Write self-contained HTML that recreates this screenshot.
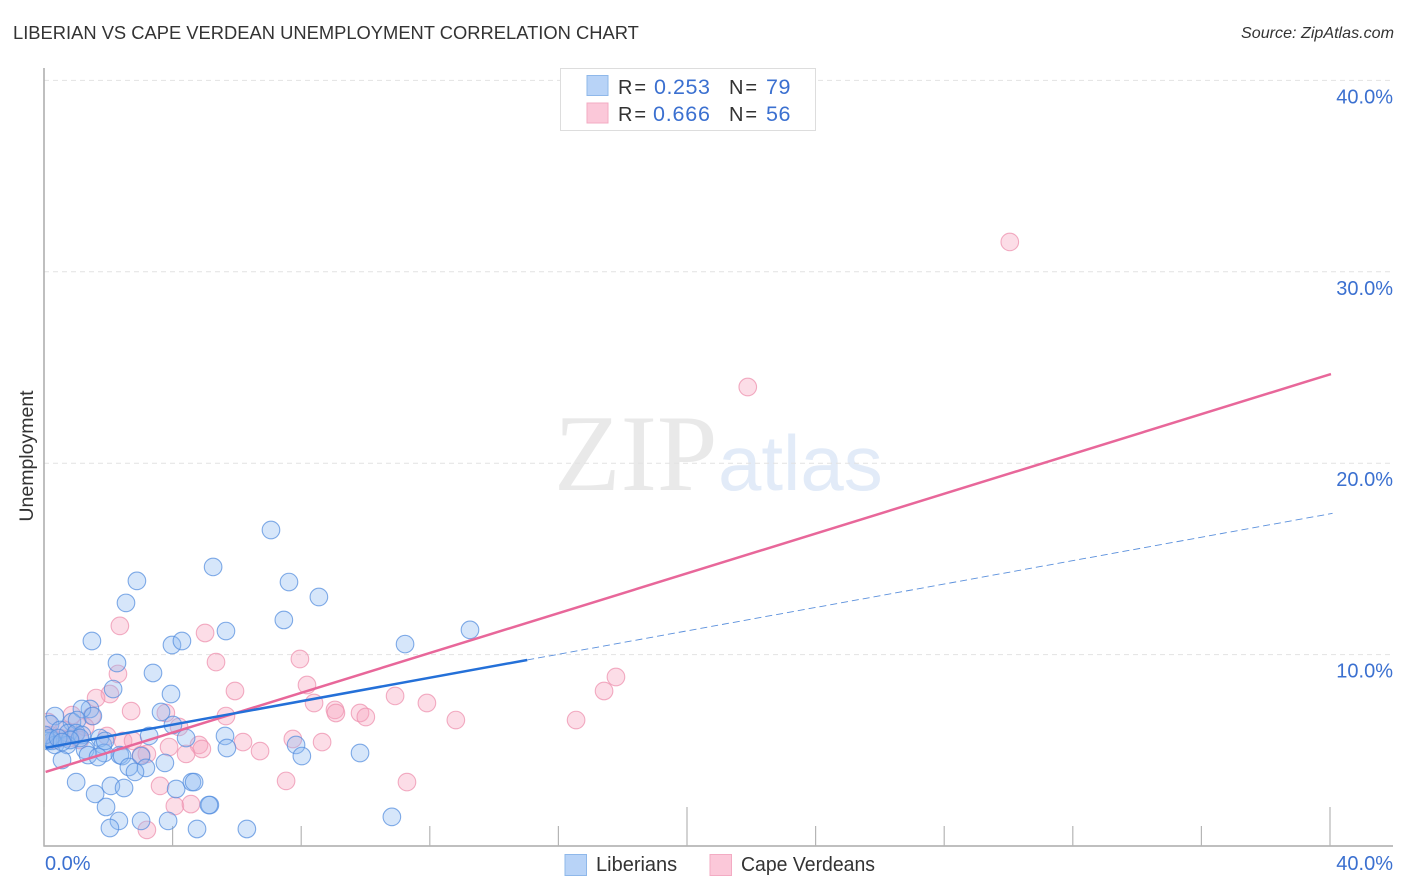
<!DOCTYPE html>
<html>
<head>
<meta charset="utf-8">
<title>Liberian vs Cape Verdean Unemployment Correlation Chart</title>
<style>
html,body{margin:0;padding:0;background:#fff;}
body{width:1406px;height:892px;overflow:hidden;font-family:"Liberation Sans",sans-serif;}
svg{display:block;}
text{font-family:"Liberation Sans",sans-serif;}
</style>
</head>
<body>
<svg id="chart" width="1406" height="892" viewBox="0 0 1406 892" xmlns="http://www.w3.org/2000/svg">
  <defs>
    <clipPath id="plot-clip"><rect x="45" y="60" width="1350" height="786"/></clipPath>
  </defs>
  <text x="13" y="39" font-size="18.35" fill="#333">LIBERIAN VS CAPE VERDEAN UNEMPLOYMENT CORRELATION CHART</text>
  <text x="1394" y="38" font-size="16.1" font-style="italic" fill="#333" text-anchor="end">Source: ZipAtlas.com</text>
  <text transform="translate(33,456) rotate(-90)" font-size="19.5" fill="#333" text-anchor="middle">Unemployment</text>
  <g>
    <text x="554" y="490" font-size="109" fill="#e9e9e9" style="font-family:'Liberation Serif',serif">ZIP</text>
    <text x="718" y="490" font-size="78" fill="#e2ebf8">atlas</text>
  </g>
  <g id="grid"></g>
  <g id="axes"></g>
  <g id="points-pink" clip-path="url(#plot-clip)"></g>
  <g id="points-blue" clip-path="url(#plot-clip)"></g>
  <g id="trends"></g>
  <g id="labels"></g>

  <g>
    <rect x="560.5" y="68.5" width="255" height="62" fill="#fff" stroke="#ddd" stroke-width="1"/>
    <rect x="587" y="75.500" width="21" height="20" fill="#b8d3f7" stroke="#8fb8ea" stroke-width="1"/>
    <rect x="587" y="103" width="21" height="20" fill="#fbc8d9" stroke="#f3abc3" stroke-width="1"/>
    <text x="618" y="94" font-size="20" fill="#333" textLength="28" lengthAdjust="spacing">R =</text>
    <text x="654" y="94" font-size="21.5" fill="#3b70d0" textLength="56" lengthAdjust="spacing">0.253</text>
    <text x="729" y="94" font-size="20" fill="#333" textLength="28" lengthAdjust="spacing">N =</text>
    <text x="766" y="94" font-size="21.5" fill="#3b70d0" textLength="24.5" lengthAdjust="spacing">79</text>
    <text x="618" y="121" font-size="20" fill="#333" textLength="28" lengthAdjust="spacing">R =</text>
    <text x="653" y="121" font-size="21.5" fill="#3b70d0" textLength="57" lengthAdjust="spacing">0.666</text>
    <text x="729" y="121" font-size="20" fill="#333" textLength="28" lengthAdjust="spacing">N =</text>
    <text x="766" y="121" font-size="21.5" fill="#3b70d0" textLength="24.5" lengthAdjust="spacing">56</text>
  </g>

  <g>
    <rect x="565" y="854.500" width="21.500" height="21" fill="#b8d3f7" stroke="#8fb8ea" stroke-width="1"/>
    <text x="596" y="871" font-size="20" fill="#333">Liberians</text>
    <rect x="710" y="854.500" width="21.500" height="21" fill="#fbc8d9" stroke="#f3abc3" stroke-width="1"/>
    <text x="741" y="871" font-size="20" fill="#333" textLength="134" lengthAdjust="spacingAndGlyphs">Cape Verdeans</text>
  </g>
</svg>
<script>
const liberianX = [7.06,5.26,2.89,7.62,8.55,2.55,7.46,5.66,13.25,1.49,3.98,4.29,11.23,2.27,3.39,2.15,3.95,3.64,4.01,1.43,1.18,0.34,0.19,0.87,1.03,1.52,0.50,0.75,1.00,1.18,0.25,0.12,0.34,0.72,3.27,4.42,5.63,5.69,7.84,8.02,9.83,1.74,1.83,1.87,1.28,1.37,1.68,0.56,2.36,2.43,3.02,3.17,2.64,2.83,3.76,1.00,2.08,1.59,2.49,4.11,4.60,4.67,5.16,5.13,1.93,2.33,3.02,3.86,2.05,4.76,6.31,10.82,0.03,0.19,1.12,0.81,0.44,0.56,1.90];
const liberianY = [16.51,14.58,13.85,13.79,13.01,12.70,11.81,11.23,11.29,10.71,10.50,10.71,10.55,9.56,9.04,8.20,7.94,7.00,6.32,7.16,7.16,6.79,6.37,6.48,6.58,6.79,6.06,5.90,5.90,5.80,5.49,5.49,5.28,5.28,5.75,5.64,5.75,5.12,5.28,4.70,4.86,5.64,5.28,4.86,5.02,4.75,4.65,4.49,4.75,4.70,4.70,4.08,4.13,3.87,4.34,3.34,3.14,2.72,3.03,2.98,3.34,3.34,2.14,2.14,2.04,1.31,1.31,1.31,0.94,0.89,0.89,1.52,5.80,5.64,5.64,5.54,5.64,5.43,5.49];
const capeVerdeanX = [30.04,21.89,2.36,5.01,5.35,7.96,2.30,5.94,8.18,2.05,1.62,2.71,3.79,4.20,5.66,8.40,10.92,11.91,12.81,17.42,17.79,16.55,9.05,9.08,9.83,10.01,1.96,2.46,2.77,3.89,4.82,4.91,4.42,6.19,6.72,7.74,8.65,3.20,3.02,7.53,11.29,3.61,4.07,4.57,3.20,1.49,0.87,0.19,0.34,0.50,0.81,0.96,1.28,0.65,1.12,0.12];
const capeVerdeanY = [31.56,23.98,11.50,11.13,9.61,9.77,8.99,8.10,8.41,7.94,7.73,7.05,6.95,6.22,6.79,7.47,7.84,7.47,6.58,8.10,8.83,6.58,7.11,6.95,6.95,6.74,5.75,5.49,5.49,5.17,5.28,5.07,4.81,5.43,4.96,5.59,5.43,4.81,4.75,3.40,3.34,3.14,2.09,2.19,0.84,6.79,6.84,5.80,5.54,5.64,5.64,5.80,6.22,6.06,5.54,6.48];
const liberianTrendX = [0.05,15.03,40.08];
const liberianTrendY = [5.13,9.72,17.38];
const capeVerdeanTrendX = [0.05,40.03];
const capeVerdeanTrendY = [3.87,24.66];
const xTicks = [0,4,8,12,16,20,24,28,32,36,40];
const xMajorTicks = [0,20,40];
const yTicks = [10,20,30,40];
const yTickLabels = ["10.0%","20.0%","30.0%","40.0%"];
const xTickLabels = ["0.0%","40.0%"];

const SVGNS = "http://www.w3.org/2000/svg";
const xScale = v => 44 + v * 32.15;
const yScale = v => 846 - v * 19.14;
const mk = (parent, tag, attrs) => {
  const el = document.createElementNS(SVGNS, tag);
  for (const k in attrs) el.setAttribute(k, attrs[k]);
  document.getElementById(parent).appendChild(el);
  return el;
};

yTicks.forEach((t, i) => {
  const g = mk("grid", "line", {x1: 44, x2: 1393, y1: yScale(t), y2: yScale(t), stroke: "#e2e2e2", "stroke-width": 1, "stroke-dasharray": "5 4"});
  
  
  const l = mk("labels", "text", {x: 1393, y: yScale(t) + 23, "font-size": 20, fill: "#3b70d0", "text-anchor": "end"});
  l.textContent = yTickLabels[i];
  
  
});

const yAxis = mk("axes", "line", {x1: 44, x2: 44, y1: 68, y2: 846.5, stroke: "#aaa", "stroke-width": 1.5});


const xAxis = mk("axes", "line", {x1: 43.5, x2: 1393, y1: 846, y2: 846, stroke: "#aaa", "stroke-width": 1.5});


xTicks.forEach(t => {
  const top = xMajorTicks.includes(t) ? 807 : 826;
  const tk = mk("axes", "line", {x1: xScale(t), x2: xScale(t), y1: top, y2: 846, stroke: "#b5b5b5", "stroke-width": 1.2});
  
  
});
const xl0 = mk("labels", "text", {x: 45, y: 870, "font-size": 20, fill: "#3b70d0"});
xl0.textContent = xTickLabels[0];


const xl1 = mk("labels", "text", {x: 1393, y: 870, "font-size": 20, fill: "#3b70d0", "text-anchor": "end"});
xl1.textContent = xTickLabels[1];



capeVerdeanX.forEach((x, i) => {
  const c = mk("points-pink", "circle", {cx: xScale(x), cy: yScale(capeVerdeanY[i]), r: 8.8, fill: "rgba(248,165,192,0.38)", stroke: "rgba(238,145,175,0.75)", "stroke-width": 1.1});
  
  
});
liberianX.forEach((x, i) => {
  const c = mk("points-blue", "circle", {cx: xScale(x), cy: yScale(liberianY[i]), r: 8.8, fill: "rgba(140,186,242,0.36)", stroke: "rgba(82,140,222,0.72)", "stroke-width": 1.1});
  
  
});

const pinkLine = mk("trends", "line", {x1: xScale(capeVerdeanTrendX[0]), y1: yScale(capeVerdeanTrendY[0]), x2: xScale(capeVerdeanTrendX[1]), y2: yScale(capeVerdeanTrendY[1]), stroke: "#e8679a", "stroke-width": 2.5});


const blueLine = mk("trends", "line", {x1: xScale(liberianTrendX[0]), y1: yScale(liberianTrendY[0]), x2: xScale(liberianTrendX[1]), y2: yScale(liberianTrendY[1]), stroke: "#2470d8", "stroke-width": 2.5});


const blueDash = mk("trends", "line", {x1: xScale(liberianTrendX[1]), y1: yScale(liberianTrendY[1]), x2: xScale(liberianTrendX[2]), y2: yScale(liberianTrendY[2]), stroke: "#5b90dc", "stroke-width": 0.9, "stroke-dasharray": "7 4"});


</script>
</body>
</html>
